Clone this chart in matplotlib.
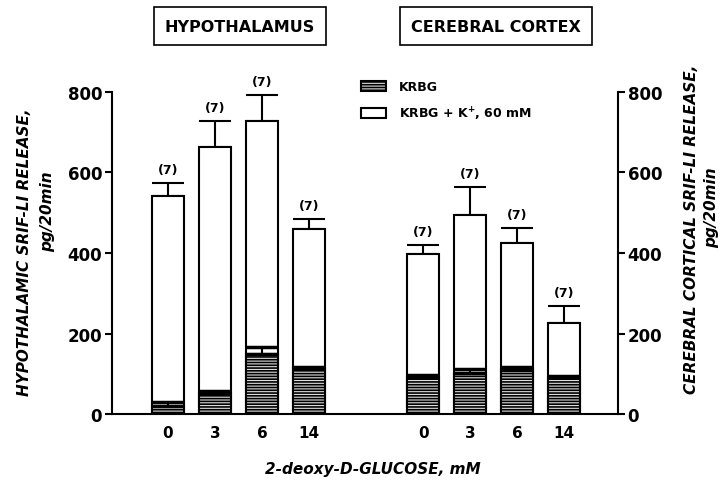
import matplotlib.pyplot as plt
import numpy as np
from matplotlib.patches import Patch

# data (pg/20 min)
doses = ['0', '3', '6', '14']
hypo_k = [541, 663, 727, 460]
hypo_k_err = [32, 66, 66, 24]
hypo_krbg = [20, 51, 149, 114]
hypo_krbg_err = [9, 7, 18, 4]
cortex_k = [397, 494, 426, 227]
cortex_k_err = [22, 70, 37, 42]
cortex_krbg = [91, 103, 110, 91]
cortex_krbg_err = [6, 9, 8, 4]
n_labels = ['(7)'] * 4

plt.rcParams['font.family'] = 'DejaVu Sans'
plt.rcParams['font.weight'] = 'bold'
plt.rcParams['hatch.linewidth'] = 1.2

fig = plt.figure(figsize=(7.21, 4.85), dpi=100)
ax = fig.add_axes([0.1553, 0.1443, 0.7018, 0.664])

width = 0.68
x_left = np.arange(4)
x_right = np.arange(4) + 5.43


def draw_group(x, tot, tot_err, base, base_err):
    ax.bar(x, tot, width, facecolor='white', edgecolor='black', lw=1.5, zorder=2)
    ax.bar(x, base, width, facecolor='#dddddd', edgecolor='black', lw=1.5,
           hatch='------', zorder=3)
    zeros = np.zeros(len(x))
    ax.errorbar(x, tot, yerr=[zeros, tot_err], fmt='none', ecolor='black',
                elinewidth=1.5, capsize=11.5, capthick=1.5, zorder=1, clip_on=False)
    ax.errorbar(x, base, yerr=[zeros, base_err], fmt='none', ecolor='black',
                elinewidth=1.5, capsize=11.5, capthick=2.5, zorder=4, clip_on=False)
    for xi, t, e, lab in zip(x, tot, tot_err, n_labels):
        ax.annotate(lab, (xi, t + e), xytext=(0, 5), textcoords='offset points',
                    ha='center', va='bottom', fontsize=9, fontweight='bold')


draw_group(x_left, hypo_k, hypo_k_err, hypo_krbg, hypo_krbg_err)
draw_group(x_right, cortex_k, cortex_k_err, cortex_krbg, cortex_krbg_err)

ax.set_xlim(-1.19, 9.57)
ax.set_ylim(0, 800)
ax.set_xticks(list(x_left) + list(x_right))
ax.set_xticklabels(doses + doses, fontsize=11, fontweight='bold')
ax.tick_params(axis='x', length=0, pad=8)
ax.set_yticks(range(0, 801, 200))
ax.tick_params(axis='y', labelsize=12, length=5, width=1.5, pad=2)
for s in ['top', 'right']:
    ax.spines[s].set_visible(False)
for s in ['left', 'bottom']:
    ax.spines[s].set_linewidth(1.5)

ax2 = ax.twinx()
ax2.set_ylim(0, 800)
ax2.set_yticks(range(0, 801, 200))
ax2.tick_params(axis='y', labelsize=12, length=5, width=1.5, pad=2)
for s in ['top', 'left', 'bottom']:
    ax2.spines[s].set_visible(False)
ax2.spines['right'].set_linewidth(1.5)

# group titles in boxes
box = dict(boxstyle='square,pad=0.7', fc='white', ec='black', lw=1.2)
fig.text(240 / 721, 1 - 27 / 485, 'HYPOTHALAMUS', ha='center', va='center',
         fontsize=11.5, fontweight='bold', bbox=box)
fig.text(496 / 721, 1 - 27 / 485, 'CEREBRAL CORTEX', ha='center', va='center',
         fontsize=11.5, fontweight='bold', bbox=box)

# axis titles
lab = dict(fontsize=11, fontweight='bold', style='italic', ha='center', va='center',
           rotation=90)
fig.text(25 / 721, 1 - 252 / 485, 'HYPOTHALAMIC SRIF-LI RELEASE,', **lab)
fig.text(48 / 721, 1 - 212 / 485, 'pg/20min', **lab)
fig.text(692 / 721, 1 - 229 / 485, 'CEREBRAL CORTICAL SRIF-LI RELEASE,', **lab)
fig.text(712 / 721, 1 - 208 / 485, 'pg/20min', **lab)
fig.text(373 / 721, 1 - 470 / 485, '2-deoxy-D-GLUCOSE, mM', fontsize=11,
         fontweight='bold', style='italic', ha='center', va='center')

handles = [Patch(facecolor='#dddddd', edgecolor='black', hatch='------', lw=1.5),
           Patch(facecolor='white', edgecolor='black', lw=1.5)]
fig.legend(handles, ['KRBG', 'KRBG + K$^{+}$, 60 mM'], loc='upper left',
           bbox_to_anchor=(350 / 721, 1 - 70 / 485), frameon=False,
           prop={'size': 9, 'weight': 'bold'}, handlelength=2.0, handleheight=0.9,
           labelspacing=0.9, handletextpad=1.0)

fig.savefig('out.png', dpi=100)
